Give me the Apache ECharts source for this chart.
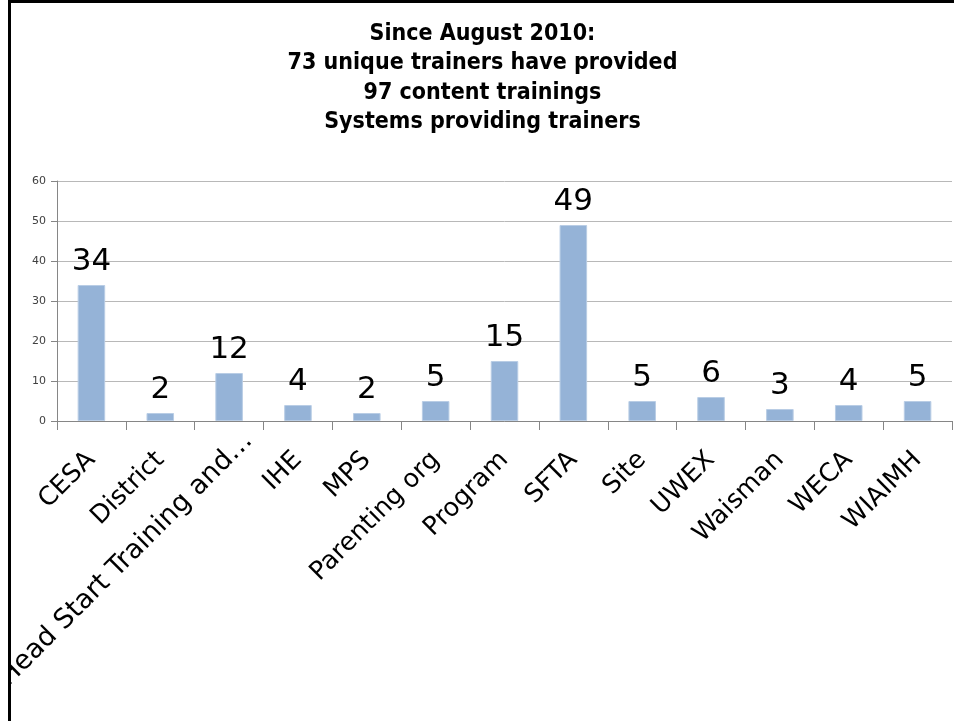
<!DOCTYPE html>
<html>
<head>
<meta charset="utf-8">
<script src="https://cdn.jsdelivr.net/npm/echarts@6/dist/echarts.min.js"></script>
<style>
  html, body { margin: 0; padding: 0; background: #fff; }
  #frame {
    position: absolute; left: 8px; top: 0; width: 946px; height: 721px;
    border-left: 3px solid #000; border-top: 3px solid #000;
    box-sizing: border-box; overflow: hidden;
  }
  #chart { position: absolute; left: 0; top: 0; width: 943px; height: 718px; }
</style>
</head>
<body>
<div id="frame"><div id="chart"></div></div>
<script>
// data
const titleLines = [
  'Since August 2010:',
  '73 unique trainers have provided',
  '97 content trainings',
  'Systems providing trainers'
];
const categories = ['CESA', 'District', 'Head Start Training and…', 'IHE', 'MPS',
  'Parenting org', 'Program', 'SFTA', 'Site', 'UWEX', 'Waisman', 'WECA', 'WIAIMH'];
const trainers = [34, 2, 12, 4, 2, 5, 15, 49, 5, 6, 3, 4, 5];
const yMin = 0, yMax = 60, yStep = 10;

// the long truncated label sits further up the diagonal in the original
const xData = categories.map(function (c) {
  if (c.length > 15) {
    return { value: c, textStyle: { align: 'center', fontSize: 27, padding: [0, 292, 0, 0] } };
  }
  return c;
});

const chartDom = document.getElementById('chart');
const myChart = echarts.init(chartDom);

const options = {
  animation: false,
  title: {
    text: titleLines.join('\n'),
    left: 'center',
    top: 11,
    textStyle: {
      fontFamily: 'DejaVu Sans Condensed',
      fontWeight: 'bold',
      fontSize: 23,
      lineHeight: 29.5,
      color: '#000'
    }
  },
  grid: { left: 46, right: 2, top: 178, bottom: 300, outerBoundsMode: 'none', containLabel: false },
  xAxis: {
    type: 'category',
    data: xData,
    axisLine: { lineStyle: { color: '#868686' } },
    axisTick: { show: true, alignWithLabel: false, length: 9, lineStyle: { color: '#868686' } },
    axisLabel: {
      interval: 0,
      rotate: 45,
      margin: 35,
      fontFamily: 'DejaVu Sans',
      fontSize: 25.5,
      color: '#000'
    }
  },
  yAxis: {
    type: 'value',
    min: yMin,
    max: yMax,
    interval: yStep,
    axisLine: { show: true, lineStyle: { color: '#868686' } },
    axisTick: { show: true, length: 6, lineStyle: { color: '#868686' } },
    splitLine: { lineStyle: { color: '#b8b8b8' } },
    axisLabel: {
      margin: 11,
      fontFamily: 'DejaVu Sans',
      fontSize: 11,
      color: '#404040'
    }
  },
  series: [
    {
      type: 'bar',
      data: trainers,
      barWidth: '40%',
      itemStyle: { color: '#95b3d7', borderColor: '#b9cde5', borderWidth: 1 },
      label: {
        show: true,
        position: 'top',
        distance: 8,
        fontFamily: 'DejaVu Sans',
        fontSize: 31,
        color: '#000'
      }
    }
  ]
};
options && myChart.setOption(options);
</script>
</body>
</html>
